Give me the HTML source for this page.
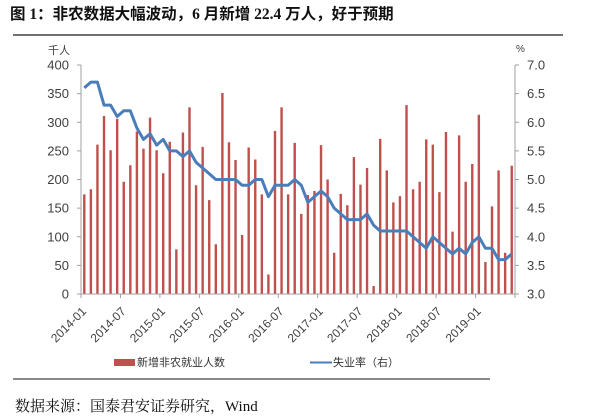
<!DOCTYPE html>
<html>
<head>
<meta charset="utf-8">
<style>
html,body{margin:0;padding:0;background:#fff;}
body{width:600px;height:417px;overflow:hidden;}
svg{display:block;}
.t{font-family:"Liberation Sans","Noto Sans CJK SC",sans-serif;fill:#404040;}
</style>
</head>
<body>
<svg width="600" height="417" viewBox="0 0 600 417" xmlns="http://www.w3.org/2000/svg">
<text x="10" y="19" style="font-family:'Liberation Serif','Noto Sans CJK SC',sans-serif;font-weight:bold;font-size:15.5px;fill:#111;">图 1：非农数据大幅波动，6 月新增 22.4 万人，好于预期</text>
<line x1="13" y1="35" x2="563" y2="35" stroke="#404040" stroke-width="1.5"/>
<text class="t" x="48" y="54" style="font-size:11px;">千人</text>
<text class="t" x="516" y="52" style="font-size:10px;">%</text>
<g transform="translate(81,294) scale(6.576,-0.5725)">
<path fill="none" stroke="#C0504D" stroke-width="2.4" vector-effect="non-scaling-stroke" d="M.5 0V174M1.5 0V183M2.5 0V261M3.5 0V311M4.5 0V251M5.5 0V306M6.5 0V196M7.5 0V225M8.5 0V284M9.5 0V254M10.5 0V308M11.5 0V251M12.5 0V211M13.5 0V266M14.5 0V78M15.5 0V282M16.5 0V326M17.5 0V190M18.5 0V257M19.5 0V164M20.5 0V87M21.5 0V351M22.5 0V265M23.5 0V234M24.5 0V103M25.5 0V256M26.5 0V235M27.5 0V174M28.5 0V34M29.5 0V285M30.5 0V326M31.5 0V174M32.5 0V264M33.5 0V140M34.5 0V173M35.5 0V180M36.5 0V260M37.5 0V200M38.5 0V72M39.5 0V175M40.5 0V155M41.5 0V239M42.5 0V191M43.5 0V220M44.5 0V14M45.5 0V271M46.5 0V216M47.5 0V160M48.5 0V171M49.5 0V330M50.5 0V183M51.5 0V196M52.5 0V270M53.5 0V261M54.5 0V178M55.5 0V283M56.5 0V109M57.5 0V277M58.5 0V196M59.5 0V227M60.5 0V313M61.5 0V56M62.5 0V153M63.5 0V216M64.5 0V72M65.5 0V224"/>
</g>
<g transform="translate(81,294) scale(6.576,-57.25)">
<polyline fill="none" stroke="#4A7EBB" stroke-width="3" stroke-linejoin="round" vector-effect="non-scaling-stroke" points="0.5,3.6 1.5,3.7 2.5,3.7 3.5,3.3 4.5,3.3 5.5,3.1 6.5,3.2 7.5,3.2 8.5,2.9 9.5,2.7 10.5,2.8 11.5,2.6 12.5,2.7 13.5,2.5 14.5,2.5 15.5,2.4 16.5,2.5 17.5,2.3 18.5,2.2 19.5,2.1 20.5,2.0 21.5,2.0 22.5,2.0 23.5,2.0 24.5,1.9 25.5,1.9 26.5,2.0 27.5,2.0 28.5,1.7 29.5,1.9 30.5,1.9 31.5,1.9 32.5,2.0 33.5,1.9 34.5,1.6 35.5,1.7 36.5,1.8 37.5,1.7 38.5,1.5 39.5,1.4 40.5,1.3 41.5,1.3 42.5,1.3 43.5,1.4 44.5,1.2 45.5,1.1 46.5,1.1 47.5,1.1 48.5,1.1 49.5,1.1 50.5,1.0 51.5,0.9 52.5,0.8 53.5,1.0 54.5,0.9 55.5,0.8 56.5,0.7 57.5,0.8 58.5,0.7 59.5,0.9 60.5,1.0 61.5,0.8 62.5,0.8 63.5,0.6 64.5,0.6 65.5,0.7"/>
</g>
<path fill="none" stroke="#A0A0A0" stroke-width="1" d="M81 65V294H515V65M77 65h4M77 93.6h4M77 122.3h4M77 150.9h4M77 179.5h4M77 208.1h4M77 236.8h4M77 265.4h4M77 294h4M515 65h4M515 93.6h4M515 122.3h4M515 150.9h4M515 179.5h4M515 208.1h4M515 236.8h4M515 265.4h4M515 294h4M81 294v4M120.5 294v4M159.9 294v4M199.4 294v4M238.8 294v4M278.3 294v4M317.7 294v4M357.2 294v4M396.6 294v4M436.1 294v4M475.6 294v4M515 294v4"/>
<g class="t" style="font-size:13px;" text-anchor="end">
<text x="69" y="69.5">400</text>
<text x="69" y="98.1">350</text>
<text x="69" y="126.8">300</text>
<text x="69" y="155.4">250</text>
<text x="69" y="184">200</text>
<text x="69" y="212.6">150</text>
<text x="69" y="241.3">100</text>
<text x="69" y="269.9">50</text>
<text x="69" y="298.5">0</text>
</g>
<g class="t" style="font-size:13px;">
<text x="527" y="69.5">7.0</text>
<text x="527" y="98.1">6.5</text>
<text x="527" y="126.8">6.0</text>
<text x="527" y="155.4">5.5</text>
<text x="527" y="184">5.0</text>
<text x="527" y="212.6">4.5</text>
<text x="527" y="241.3">4.0</text>
<text x="527" y="269.9">3.5</text>
<text x="527" y="298.5">3.0</text>
</g>
<g class="t" style="font-size:12px;" text-anchor="end">
<text transform="translate(87,312) rotate(-45)">2014-01</text>
<text transform="translate(126.5,312) rotate(-45)">2014-07</text>
<text transform="translate(165.9,312) rotate(-45)">2015-01</text>
<text transform="translate(205.4,312) rotate(-45)">2015-07</text>
<text transform="translate(244.8,312) rotate(-45)">2016-01</text>
<text transform="translate(284.3,312) rotate(-45)">2016-07</text>
<text transform="translate(323.7,312) rotate(-45)">2017-01</text>
<text transform="translate(363.2,312) rotate(-45)">2017-07</text>
<text transform="translate(402.6,312) rotate(-45)">2018-01</text>
<text transform="translate(442.1,312) rotate(-45)">2018-07</text>
<text transform="translate(481.6,312) rotate(-45)">2019-01</text>
</g>
<rect x="114" y="359" width="21" height="7" fill="#C0504D"/>
<text class="t" x="137" y="366" style="font-size:11px;fill:#333;">新增非农就业人数</text>
<line x1="310" y1="362.5" x2="332" y2="362.5" stroke="#4A7EBB" stroke-width="2"/>
<text class="t" x="333" y="366" style="font-size:11px;fill:#333;">失业率（右）</text>
<line x1="13" y1="379" x2="490" y2="379" stroke="#888" stroke-width="2"/>
<text x="15" y="411" style="font-family:'Liberation Serif','Noto Serif CJK SC',serif;font-size:15px;fill:#111;">数据来源：国泰君安证券研究，Wind</text>
</svg>
</body>
</html>
